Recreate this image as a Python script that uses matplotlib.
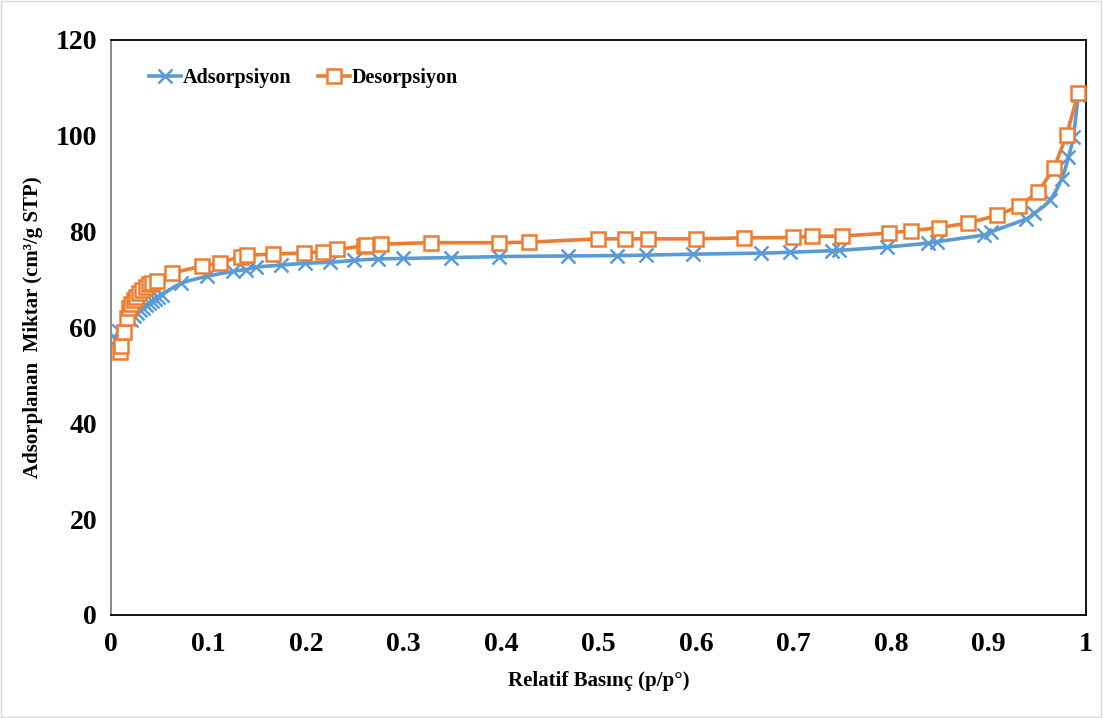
import numpy as np
import matplotlib
matplotlib.use("Agg")
import matplotlib.pyplot as plt
from matplotlib.patches import Rectangle

# adsorpsiyon (mavi, yumusatilmis cizgi)
ads_p = [0.005, 0.008, 0.021, 0.024, 0.027, 0.030, 0.033, 0.036, 0.039, 0.042,
         0.045, 0.048, 0.052, 0.072, 0.099, 0.125, 0.139, 0.149, 0.174, 0.199,
         0.225, 0.249, 0.274, 0.299, 0.349, 0.398, 0.469, 0.519, 0.549, 0.597,
         0.667, 0.696, 0.739, 0.747, 0.796, 0.838, 0.847, 0.895, 0.903, 0.938,
         0.947, 0.963, 0.975, 0.982, 0.987, 0.992]
ads_v = [57.5, 59.3, 61.6, 62.3, 63.0, 63.6, 64.1, 64.6, 65.1, 65.5,
         65.9, 66.3, 66.8, 69.2, 70.7, 71.7, 72.1, 72.6, 73.0, 73.4,
         73.6, 74.0, 74.3, 74.4, 74.6, 74.8, 74.9, 75.0, 75.1, 75.3,
         75.5, 75.7, 76.0, 76.1, 76.8, 77.6, 77.9, 79.3, 80.0, 82.6,
         83.8, 86.6, 91.0, 95.6, 99.8, 108.5]

# desorpsiyon (turuncu)
des_p = [0.009, 0.010, 0.013, 0.016, 0.018, 0.021, 0.024, 0.026, 0.029, 0.032,
         0.036, 0.039, 0.042, 0.047, 0.063, 0.093, 0.112, 0.133, 0.140, 0.166,
         0.198, 0.217, 0.232, 0.259, 0.262, 0.277, 0.328, 0.398, 0.429, 0.499,
         0.527, 0.551, 0.600, 0.649, 0.699, 0.719, 0.750, 0.798, 0.820, 0.849,
         0.879, 0.909, 0.931, 0.951, 0.967, 0.980, 0.992]
des_v = [54.9, 56.1, 59.1, 61.9, 64.0, 65.0, 65.7, 66.4, 67.1, 67.8,
         68.5, 69.0, 69.3, 69.8, 71.4, 72.8, 73.5, 74.8, 75.1, 75.3,
         75.6, 75.8, 76.3, 77.0, 77.2, 77.4, 77.7, 77.7, 77.8, 78.5,
         78.5, 78.5, 78.5, 78.7, 78.8, 79.0, 79.1, 79.7, 80.2, 80.8,
         81.8, 83.4, 85.3, 88.3, 93.2, 100.1, 109.0]

x_etiket = ["0", "0.1", "0.2", "0.3", "0.4", "0.5", "0.6", "0.7", "0.8", "0.9", "1"]

mavi = "#5B9BD5"
turuncu = "#ED7D31"
plt.rcParams["font.family"] = ["Liberation Serif", "DejaVu Serif"]
plt.rcParams["font.weight"] = "bold"


def catmull_rom(x, y, n=20):
    # Excel'deki "smoothed line" icin basit spline
    x = np.asarray(x, float)
    y = np.asarray(y, float)
    px = np.concatenate([[2 * x[0] - x[1]], x, [2 * x[-1] - x[-2]]])
    py = np.concatenate([[2 * y[0] - y[1]], y, [2 * y[-1] - y[-2]]])
    xs, ys = [], []
    t = np.linspace(0, 1, n, endpoint=False)
    for i in range(1, len(px) - 2):
        for arr, out in ((px, xs), (py, ys)):
            p0, p1, p2, p3 = arr[i - 1], arr[i], arr[i + 1], arr[i + 2]
            out.extend(0.5 * (2 * p1 + (-p0 + p2) * t
                              + (2 * p0 - 5 * p1 + 4 * p2 - p3) * t ** 2
                              + (-p0 + 3 * p1 - 3 * p2 + p3) * t ** 3))
    xs.append(x[-1])
    ys.append(y[-1])
    return np.array(xs), np.array(ys)


fig = plt.figure(figsize=(11.03, 7.18), dpi=100)
ax = fig.add_axes([0.1006, 0.1435, 0.884, 0.8008])

sx, sy = catmull_rom(ads_p, ads_v)
ax.plot(sx, sy, color=mavi, lw=2.6, zorder=2)
ax.plot(ads_p, ads_v, ls="none", marker="x", ms=10, mew=1.8, color=mavi, zorder=3)
ax.plot([], [], color=mavi, lw=2.6, marker="x", ms=10, mew=1.8, label="Adsorpsiyon")

ax.plot(des_p, des_v, color=turuncu, lw=2.6, marker="s", ms=10, mew=1.8,
        mfc="white", mec=turuncu, label="Desorpsiyon", zorder=4)

ax.set_xlim(0, 1)
ax.set_ylim(0, 120)
ax.set_xticks(np.arange(0, 1.01, 0.1))
ax.set_xticklabels(x_etiket)
ax.set_yticks(range(0, 121, 20))
ax.tick_params(axis="both", length=0, labelsize=20)
ax.tick_params(axis="x", pad=12)
ax.tick_params(axis="y", pad=10)
for lab in ax.get_xticklabels() + ax.get_yticklabels():
    lab.set_fontweight("bold")

for s in ax.spines.values():
    s.set_linewidth(1.3)
    s.set_color("black")
ax.spines["left"].set_color("#808080")

ax.set_xlabel("Relatif Basınç (p/p°)", fontsize=15, fontweight="bold", labelpad=10)
ax.set_ylabel("Adsorplanan  Miktar (cm³/g STP)", fontsize=15, fontweight="bold", labelpad=9)

ax.legend(loc="center left", bbox_to_anchor=(0.02, 0.934), frameon=False, ncol=2,
          handlelength=1.6, handletextpad=0.1, columnspacing=1.3,
          prop={"weight": "bold", "size": 14.5})

fig.patches.append(Rectangle((0.001, 0.001), 0.997, 0.997, transform=fig.transFigure,
                             fill=False, edgecolor="#d9d9d9", lw=1))

fig.savefig("out.png", dpi=100)
